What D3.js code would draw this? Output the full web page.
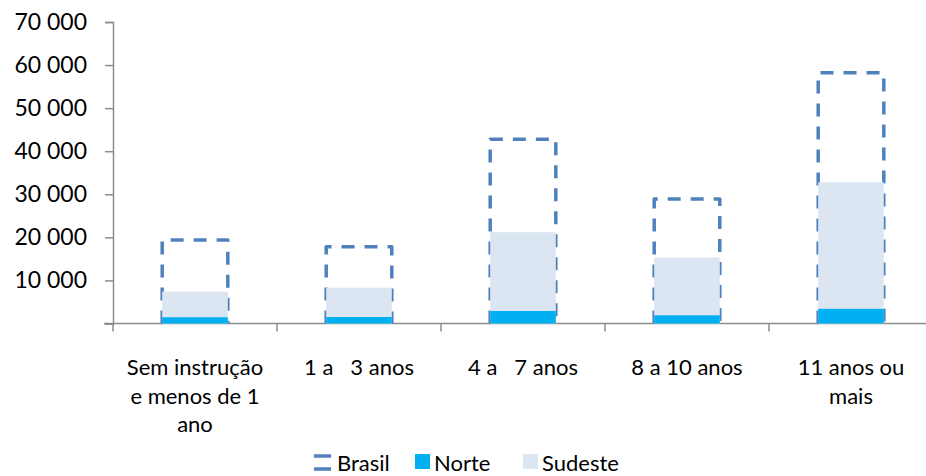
<!DOCTYPE html>
<html>
<head>
<meta charset="utf-8">
<script src="https://cdn.jsdelivr.net/npm/d3@7"></script>
<style>
  body { margin: 0; background: #fff; }
  text { font-family: Lato, "Open Sans", sans-serif; fill: #000; }
</style>
</head>
<body>
<svg id="chart" width="926" height="476"></svg>
<script>
// categories, one entry per line of the label
const categories = [
  ["Sem instrução", "e menos de 1", "ano"],
  ["1 a   3 anos"],
  ["4 a   7 anos"],
  ["8 a 10 anos"],
  ["11 anos ou", "mais"]
];
const brasil = [19400, 17800, 42800, 28900, 58200];
const sudeste = [7400, 8300, 21200, 15300, 32800];
const norte = [1450, 1500, 2900, 1900, 3400];
const yTicks = [0, 10000, 20000, 30000, 40000, 50000, 60000, 70000];
const seriesNames = ["Brasil", "Norte", "Sudeste"];

let svg = d3.select("#chart");
let keys = categories.map(function(c, i) { return i; });

let xScale = d3.scaleBand()
  .domain(keys)
  .range([113, 933])
  .padding(0);

let yScale = d3.scaleLinear()
  .domain([0, 70000])
  .range([323.5, 22]);

let step = xScale.step();
let barW = step * 0.4;
let barX = function(i) { return xScale(i) + (step - barW) / 2; };

let fmt = function(v) {
  if (v === 0) return "";
  return d3.format(",")(v).replace(/,/g, " ");
};

// y axis
let yAxis = d3.axisLeft(yScale).tickValues(yTicks).tickSize(8).tickPadding(18).tickFormat(fmt);
let yG = svg.append("g").attr("transform", "translate(113,0)").call(yAxis);
yG.select(".domain").attr("stroke", "#8c8c8c").attr("stroke-width", 1.5);
yG.selectAll(".tick line").attr("stroke", "#8c8c8c").attr("stroke-width", 1.5);
yG.selectAll(".tick text").style("font-size", "23px").style("font-family", "Lato, sans-serif").attr("fill", "#000");

// x axis line and boundary ticks
svg.append("line")
  .attr("x1", 104).attr("x2", 926)
  .attr("y1", yScale(0)).attr("y2", yScale(0))
  .attr("stroke", "#8c8c8c").attr("stroke-width", 1.5);

svg.selectAll(".xtick")
  .data(keys)
  .enter()
    .append("line")
    .attr("class", "xtick")
    .attr("x1", function(d) { return xScale(d); })
    .attr("x2", function(d) { return xScale(d); })
    .attr("y1", yScale(0))
    .attr("y2", yScale(0) + 8)
    .attr("stroke", "#8c8c8c")
    .attr("stroke-width", 1.5);

// Brasil: dashed outline (three sides)
svg.selectAll(".brasil")
  .data(brasil)
  .enter()
    .append("path")
    .attr("class", "brasil")
    .attr("d", function(d, i) {
      let p = d3.path();
      let x0 = barX(i), x1 = barX(i) + barW;
      p.moveTo(x0, yScale(0));
      p.lineTo(x0, yScale(d));
      p.lineTo(x1, yScale(d));
      p.lineTo(x1, yScale(0));
      return p.toString();
    })
    .attr("fill", "none")
    .attr("stroke", "#4f81bd")
    .attr("stroke-width", 3.5)
    .attr("stroke-dasharray", "13,10")
    .attr("stroke-linejoin", "round");

// Sudeste
svg.selectAll(".sudeste")
  .data(sudeste)
  .enter()
    .append("rect")
    .attr("class", "sudeste")
    .attr("x", function(d, i) { return barX(i); })
    .attr("y", function(d) { return yScale(d); })
    .attr("width", barW)
    .attr("height", function(d) { return yScale(0) - yScale(d); })
    .attr("fill", "#dce6f2");

// Norte
svg.selectAll(".norte")
  .data(norte)
  .enter()
    .append("rect")
    .attr("class", "norte")
    .attr("x", function(d, i) { return barX(i); })
    .attr("y", function(d) { return yScale(d); })
    .attr("width", barW)
    .attr("height", function(d) { return yScale(0) - yScale(d); })
    .attr("fill", "#00b0f0");

// category labels
let labels = svg.selectAll(".xlabel")
  .data(categories)
  .enter()
    .append("text")
    .attr("class", "xlabel")
    .attr("text-anchor", "middle")
    .style("font-size", "22px")
    .style("white-space", "pre");

labels.selectAll("tspan")
  .data(function(d, i) { return d.map(function(t) { return {t: t, i: i}; }); })
  .enter()
    .append("tspan")
    .attr("x", function(d) { return xScale(d.i) + step / 2; })
    .attr("y", function(d, j) { return 375 + j * 28.5; })
    .text(function(d) { return d.t; });

// legend
let legendX = [314, 415, 523];
let legend = svg.selectAll(".legend")
  .data(seriesNames)
  .enter()
    .append("g")
    .attr("class", "legend")
    .attr("transform", function(d, i) { return "translate(" + legendX[i] + ",0)"; });

legend.each(function(d) {
  let g = d3.select(this);
  if (d === "Brasil") {
    g.append("line").attr("x1", 0).attr("x2", 17).attr("y1", 456).attr("y2", 456)
      .attr("stroke", "#4f81bd").attr("stroke-width", 3.5);
    g.append("line").attr("x1", 0).attr("x2", 17).attr("y1", 469).attr("y2", 469)
      .attr("stroke", "#4f81bd").attr("stroke-width", 3.5);
  } else {
    g.append("rect").attr("x", 0).attr("y", 454).attr("width", 15).attr("height", 15)
      .attr("fill", d === "Norte" ? "#00b0f0" : "#dce6f2");
  }
  g.append("text")
    .attr("x", d === "Brasil" ? 23 : 19)
    .attr("y", 471)
    .style("font-size", "22px")
    .text(d);
});
</script>
</body>
</html>
